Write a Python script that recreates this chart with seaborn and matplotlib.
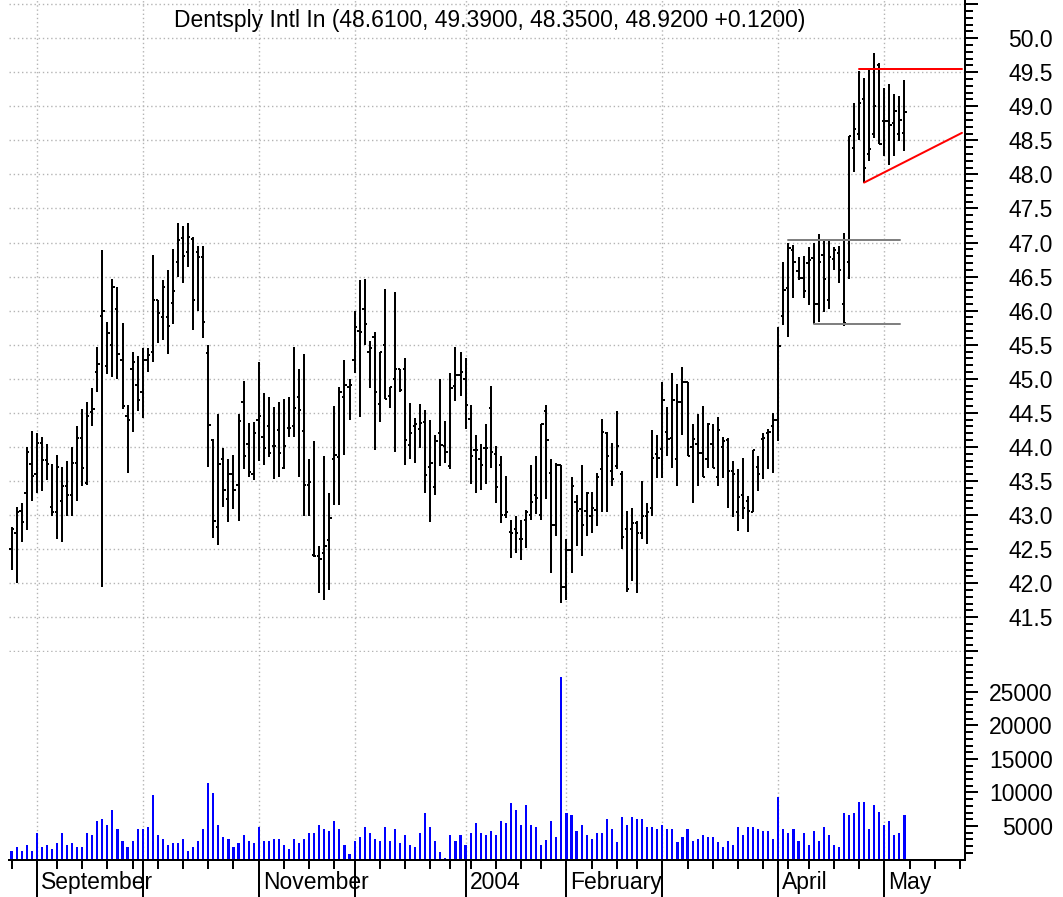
import numpy as np
import pandas as pd
import matplotlib
matplotlib.use("Agg")
import matplotlib.pyplot as plt
import matplotlib.transforms as mtransforms
from matplotlib.ticker import MultipleLocator, FixedLocator, FuncFormatter, NullFormatter
import seaborn as sns

# ---------------- data ----------------
title = "Dentsply Intl In (48.6100, 49.3900, 48.3500, 48.9200 +0.1200)"
start_date = "2003-08-25"
end_date = "2004-05-31"
holidays = ["2003-09-01", "2003-11-27", "2003-12-25", "2004-01-01",
            "2004-01-19", "2004-02-16", "2004-04-09"]

opens = [42.50, 42.73, 43.06, 43.32, 43.75, 43.60, 44.06, 43.81, 43.12, 43.04,
         43.20, 43.42, 43.30, 43.76, 44.13, 43.47, 44.52, 45.10, 45.92, 45.19,
         45.50, 46.03, 45.28, 44.45, 45.14, 44.91, 44.80, 45.28, 45.40, 46.15,
         45.90, 45.90, 46.11, 46.72, 47.06, 46.86, 47.05, 46.86, 46.79, 45.38,
         44.10, 42.82, 43.83, 43.24, 43.60, 43.44, 44.66, 44.05, 43.61, 44.40,
         44.15, 44.30, 44.02, 44.25, 43.69, 44.28, 44.30, 44.74, 44.23, 43.44,
         42.41, 42.40, 42.45, 42.64, 43.82, 43.85, 44.74, 44.88, 45.28, 45.70,
         46.03, 45.40, 45.62, 44.63, 45.50, 44.75, 44.99, 45.14, 45.14, 44.03,
         44.31, 44.26, 44.37, 43.71, 43.41, 44.20, 44.02, 43.72, 44.90, 45.05,
         45.00, 44.41, 43.96, 43.83, 43.99, 44.57, 43.89, 43.74, 43.00, 42.75,
         42.80, 42.65, 42.93, 43.00, 43.29, 43.00, 44.53, 43.62, 42.86, 43.74,
         41.95, 42.49, 43.19, 43.09, 43.06, 42.99, 43.08, 43.67, 44.20, 43.64,
         43.72, 43.60, 42.79, 42.79, 42.89, 42.74, 42.98, 43.11, 43.90, 43.97,
         44.22, 44.13, 43.82, 44.66, 44.95, 44.00, 44.04, 43.91, 43.82, 44.04,
         43.56, 44.00, 44.10, 43.65, 43.04, 43.30, 43.21, 43.04, 43.70, 44.11,
         44.20, 44.30, 44.40, 45.92, 46.34, 46.89, 46.58, 46.48, 46.70, 46.78,
         46.10, 46.82, 46.16, 46.76, 46.85, 46.10, 46.71, 48.39, 48.60, 49.10,
         48.30, 48.60, 49.60, 48.78, 48.78, 48.76, 48.59, 48.61]
highs = [42.83, 43.12, 43.18, 44.00, 44.24, 44.20, 44.15, 44.05, 43.75, 43.88,
         43.70, 43.80, 44.00, 44.30, 44.55, 44.66, 44.86, 45.47, 46.89, 45.84,
         46.46, 46.35, 45.82, 44.62, 45.40, 45.34, 45.45, 45.45, 46.82, 46.15,
         46.45, 46.60, 46.91, 47.28, 47.25, 47.28, 47.08, 46.95, 46.95, 45.49,
         44.11, 44.49, 43.98, 43.83, 43.88, 44.49, 44.97, 44.35, 44.37, 45.25,
         44.79, 44.73, 44.59, 44.66, 44.71, 44.73, 45.47, 45.14, 45.36, 43.83,
         44.09, 42.54, 43.87, 43.33, 44.60, 44.88, 45.28, 45.00, 45.99, 46.45,
         46.46, 45.55, 45.68, 45.40, 46.32, 44.88, 46.27, 45.14, 45.30, 44.65,
         44.42, 44.63, 44.54, 44.40, 44.17, 45.00, 44.38, 45.09, 45.46, 45.40,
         45.30, 44.62, 44.18, 44.04, 44.33, 44.89, 44.02, 43.86, 43.58, 42.93,
         42.99, 42.93, 43.07, 43.73, 43.86, 44.33, 44.62, 43.82, 43.77, 43.74,
         42.65, 43.56, 43.30, 43.73, 43.34, 43.34, 43.62, 44.41, 44.22, 44.06,
         44.53, 43.64, 43.06, 43.11, 42.92, 43.50, 43.18, 44.25, 44.17, 44.95,
         44.58, 45.09, 44.92, 45.18, 44.95, 44.33, 44.48, 44.60, 44.35, 44.33,
         44.44, 44.15, 44.13, 43.80, 43.67, 43.84, 43.28, 43.95, 43.87, 44.21,
         44.27, 44.50, 45.76, 46.71, 47.00, 46.97, 46.79, 46.80, 46.93, 47.00,
         47.12, 47.03, 47.03, 46.93, 46.95, 47.14, 48.56, 49.05, 49.52, 49.41,
         49.56, 49.78, 49.63, 49.27, 49.33, 49.18, 49.15, 49.39]
lows = [42.19, 42.00, 42.61, 42.78, 43.20, 43.32, 43.36, 43.51, 42.98, 42.65,
        42.61, 42.98, 42.98, 43.20, 43.43, 43.44, 44.30, 44.81, 41.95, 45.07,
        45.02, 45.00, 44.55, 43.62, 44.22, 44.53, 44.42, 45.10, 45.25, 45.52,
        45.57, 45.37, 45.81, 46.50, 46.40, 46.64, 45.71, 46.00, 45.60, 43.71,
        42.67, 42.56, 43.12, 42.90, 43.09, 42.92, 43.68, 43.56, 43.51, 43.80,
        43.73, 43.85, 43.53, 43.56, 43.67, 44.15, 44.15, 43.56, 42.98, 42.98,
        42.39, 41.85, 41.75, 41.90, 43.15, 43.15, 43.88, 44.40, 45.08, 44.44,
        45.50, 44.86, 43.95, 44.37, 44.71, 44.57, 43.93, 44.80, 43.73, 43.83,
        43.77, 43.98, 43.33, 42.90, 43.29, 43.72, 43.77, 43.68, 44.68, 44.75,
        44.26, 43.45, 43.33, 43.37, 43.45, 43.69, 43.18, 42.88, 42.95, 42.37,
        42.45, 42.34, 42.52, 42.93, 43.01, 42.93, 43.23, 42.15, 42.69, 41.71,
        41.76, 42.15, 42.54, 42.40, 42.69, 42.74, 42.84, 43.04, 43.04, 43.42,
        43.67, 42.50, 41.87, 42.03, 41.86, 42.65, 42.57, 42.98, 43.55, 43.55,
        43.86, 43.69, 43.43, 44.18, 43.86, 43.18, 43.42, 43.56, 43.69, 43.69,
        43.43, 43.55, 43.10, 42.97, 42.77, 42.94, 42.75, 43.04, 43.36, 43.53,
        43.67, 43.62, 44.09, 45.79, 45.62, 46.18, 46.45, 46.18, 46.08, 45.81,
        45.84, 45.98, 46.02, 46.59, 46.40, 45.77, 46.47, 48.03, 48.50, 47.88,
        48.20, 48.54, 48.44, 48.27, 48.14, 48.27, 48.49, 48.35]
closes = [42.80, 43.05, 42.90, 43.92, 43.57, 44.06, 43.81, 43.75, 43.04, 43.70,
          43.42, 43.30, 43.76, 44.13, 43.69, 44.45, 44.55, 45.22, 45.99, 45.67,
          46.35, 45.37, 44.60, 44.40, 45.25, 44.69, 45.28, 45.35, 46.15, 45.96,
          46.35, 45.77, 46.29, 47.03, 46.80, 47.08, 46.15, 46.79, 45.84, 44.32,
          42.92, 43.75, 43.37, 43.61, 43.37, 44.38, 43.86, 43.63, 44.20, 44.45,
          43.99, 43.91, 44.02, 43.91, 44.02, 44.28, 44.57, 44.54, 43.44, 43.49,
          42.40, 42.35, 42.54, 42.95, 43.88, 44.80, 44.91, 44.91, 45.76, 45.69,
          45.81, 45.45, 44.80, 45.40, 44.71, 44.88, 45.14, 44.83, 44.10, 44.20,
          44.33, 44.35, 43.59, 43.77, 44.08, 44.03, 43.92, 44.87, 45.05, 45.10,
          44.62, 43.86, 43.95, 43.73, 43.99, 43.92, 43.41, 43.00, 43.04, 42.74,
          42.74, 42.65, 43.04, 43.19, 43.25, 44.33, 44.10, 42.86, 43.74, 41.95,
          42.49, 43.43, 43.06, 42.86, 43.33, 43.11, 43.56, 44.22, 43.86, 43.53,
          44.02, 42.68, 41.92, 42.89, 42.74, 42.98, 43.04, 43.84, 43.84, 44.69,
          44.12, 44.69, 44.66, 44.95, 43.86, 44.11, 43.91, 43.56, 44.33, 43.69,
          44.25, 44.08, 43.64, 43.60, 43.26, 43.11, 43.06, 43.95, 43.60, 44.13,
          44.22, 44.40, 45.48, 46.30, 46.92, 46.71, 46.48, 46.29, 46.74, 46.10,
          46.71, 46.46, 46.79, 46.89, 46.60, 45.82, 48.56, 48.67, 49.05, 48.10,
          48.37, 49.00, 48.45, 48.78, 48.73, 48.93, 48.80, 48.92]
volumes = [1318, 1927, 1318, 2231, 1318, 3955, 1927, 2231, 1622, 2535,
           3955, 2231, 2535, 1927, 1927, 3955, 3650, 5729, 5983, 5121,
           7453, 4563, 2789, 1927, 2789, 4563, 4563, 4867, 9633, 3650,
           3093, 2231, 2535, 2535, 3093, 1318, 1927, 2789, 4563, 11357,
           9887, 5121, 3397, 3093, 1927, 2535, 3650, 2789, 2535, 4867,
           2789, 2789, 3093, 3093, 2231, 1622, 3093, 2535, 3093, 3955,
           3955, 5121, 4563, 4259, 5729, 4563, 2231, 760, 2789, 3397,
           4867, 3955, 3093, 2789, 4867, 2789, 4563, 2535, 3650, 2231,
           1927, 3955, 6895, 4867, 2789, 1065, 200, 3650, 2789, 3650,
           2231, 3955, 5425, 3955, 3650, 4259, 3650, 5729, 5425, 8366,
           7453, 5121, 8061, 5127, 4873, 2233, 2944, 5736, 3401, 27207,
           6903, 6599, 4264, 5127, 3655, 3096, 3959, 3959, 5990, 4568,
           2538, 6294, 5127, 6294, 5990, 5990, 4873, 4873, 4568, 5127,
           4568, 4568, 2538, 3401, 4568, 2792, 3096, 3655, 3401, 3401,
           2538, 1929, 2792, 2233, 4873, 3655, 4873, 4873, 4568, 4264,
           4264, 3096, 9289, 4568, 3959, 4568, 2792, 3959, 2233, 4264,
           2792, 4873, 3655, 2233, 1929, 6903, 6599, 6903, 8629, 8629,
           4568, 8071, 7157, 5127, 5736, 3655, 3959, 6599]

month_tick_labels = ["September", "", "November", "", "2004", "February", "", "April", "May"]

# pattern lines drawn on the chart: [x0, x1] in bar index, [y0, y1] in price
range_lines_x = [[154, 176.2], [159, 176.2]]
range_lines_y = [[47.04, 47.04], [45.81, 45.81]]
triangle_lines_x = [[168, 188.4], [169, 188.4]]
triangle_lines_y = [[49.55, 49.55], [47.88, 48.61]]

# ---------------- derived ----------------
n = len(closes)
idx = np.arange(n)
dates = pd.bdate_range(start_date, end_date, freq="C", holidays=holidays)
axis_n = 190
dates = dates[:axis_n]
months = np.array([d.month for d in dates])
weeks = np.array([d.isocalendar()[1] for d in dates])
month_starts = [i for i in range(1, axis_n) if months[i] != months[i - 1]]
week_starts = [0] + [i for i in range(1, axis_n) if weeks[i] != weeks[i - 1]]

df = pd.DataFrame({"idx": idx, "open": opens, "high": highs, "low": lows,
                   "close": closes, "volume": volumes})

# ---------------- figure ----------------
sns.set_theme(style="white")
plt.rcParams["font.family"] = ["Liberation Sans", "DejaVu Sans"]
W, H = 1063, 897
fig = plt.figure(figsize=(W / 100, H / 100), dpi=100)
fig.patch.set_facecolor("white")
left, right = 9, 965
top_p, bot_p, bot_v = 0, 652, 859.5
ax = fig.add_axes([left / W, 1 - bot_p / H, (right - left) / W, (bot_p - top_p) / H])
axv = fig.add_axes([left / W, 1 - bot_v / H, (right - left) / W, (bot_v - bot_p) / H])

px = 1 / 1.389  # one pixel in points at 100 dpi
fs = 16.5
grid_kw = dict(color="#b4b4b4", linestyle=(0, (1, 2)), linewidth=1.0)

# price bars
tick_w = 0.45
ax.vlines(df["idx"], df["low"], df["high"], color="black", linewidth=2 * px)
ax.hlines(df["open"], df["idx"] - tick_w, df["idx"], color="black", linewidth=2 * px)
ax.hlines(df["close"], df["idx"], df["idx"] + tick_w, color="black", linewidth=2 * px)

for xs, ys in zip(range_lines_x, range_lines_y):
    ax.plot(xs, ys, color="#808080", linewidth=2 * px)
for xs, ys in zip(triangle_lines_x, triangle_lines_y):
    ax.plot(xs, ys, color="#ff0000", linewidth=2 * px)

xlim = (-0.5, 189.0)
ax.set_xlim(*xlim)
ax.set_ylim(40.99, 50.56)
ax.yaxis.set_major_locator(MultipleLocator(0.5))
ax.yaxis.set_minor_locator(MultipleLocator(0.1))
ax.yaxis.set_major_formatter(FuncFormatter(lambda v, p: f"{v:.1f}" if 41.4 < v < 50.1 else ""))
ax.yaxis.tick_right()
ax.xaxis.set_major_locator(FixedLocator(month_starts))
ax.tick_params(axis="x", which="both", length=0, labelbottom=False)
ax.tick_params(axis="y", which="major", right=True, direction="out", length=13 * px, width=2 * px,
               color="black", labelsize=fs, pad=88 * px - 13 * px, labelcolor="black")
ax.tick_params(axis="y", which="minor", right=True, direction="out", length=8 * px, width=2 * px, color="black")
ax.grid(True, axis="both", which="major", **grid_kw)
ax.set_axisbelow(True)
for s in ["left", "top", "bottom"]:
    ax.spines[s].set_visible(False)
ax.spines["right"].set_color("black")
ax.spines["right"].set_linewidth(2 * px)
plt.setp(ax.get_yticklabels(), ha="right")

# volume bars
sns.barplot(data=df, x="idx", y="volume", ax=axv, native_scale=True, color="#0000ff",
            saturation=1, width=0.42, errorbar=None, linewidth=0)
axv.set_xlim(*xlim)
axv.set_ylim(0, 30950)
axv.set_xlabel("")
axv.set_ylabel("")
axv.yaxis.tick_right()
axv.yaxis.set_major_locator(FixedLocator([5000, 10000, 15000, 20000, 25000]))
axv.yaxis.set_minor_locator(FixedLocator(list(range(1000, 31000, 1000))))
axv.yaxis.set_major_formatter(FuncFormatter(lambda v, p: f"{int(v)}"))
axv.tick_params(axis="y", which="major", right=True, direction="out", length=13 * px, width=2 * px,
                color="black", labelsize=fs, pad=88 * px - 13 * px, labelcolor="black")
axv.tick_params(axis="y", which="minor", right=True, direction="out", length=8 * px, width=2 * px, color="black")
axv.xaxis.set_major_locator(FixedLocator(month_starts))
axv.xaxis.set_minor_locator(FixedLocator(week_starts))
axv.xaxis.set_major_formatter(NullFormatter())
axv.xaxis.set_minor_formatter(NullFormatter())
axv.tick_params(axis="x", which="major", bottom=True, direction="out", length=38 * px, width=2 * px, color="black")
axv.tick_params(axis="x", which="minor", bottom=True, direction="out", length=9 * px, width=2 * px, color="black")
axv.grid(True, axis="x", which="major", **grid_kw)
axv.grid(False, axis="y")
axv.set_axisbelow(True)
for s in ["left", "top"]:
    axv.spines[s].set_visible(False)
for s in ["right", "bottom"]:
    axv.spines[s].set_color("black")
    axv.spines[s].set_linewidth(2 * px)
plt.setp(axv.get_yticklabels(), ha="right")

trans = mtransforms.blended_transform_factory(axv.transData, axv.transAxes)
trans = trans + mtransforms.ScaledTranslation(4 / 100, 0, fig.dpi_scale_trans)
for m, lab in zip(month_starts, month_tick_labels):
    if lab:
        axv.text(m, -(889 - bot_v) / (bot_v - bot_p), lab, transform=trans,
                 ha="left", va="baseline", fontsize=fs, color="black")

fig.text(490 / W, 1 - 20 / H, title, ha="center", va="center", fontsize=fs, color="black")

fig.savefig("out.png", dpi=100, facecolor="white")
